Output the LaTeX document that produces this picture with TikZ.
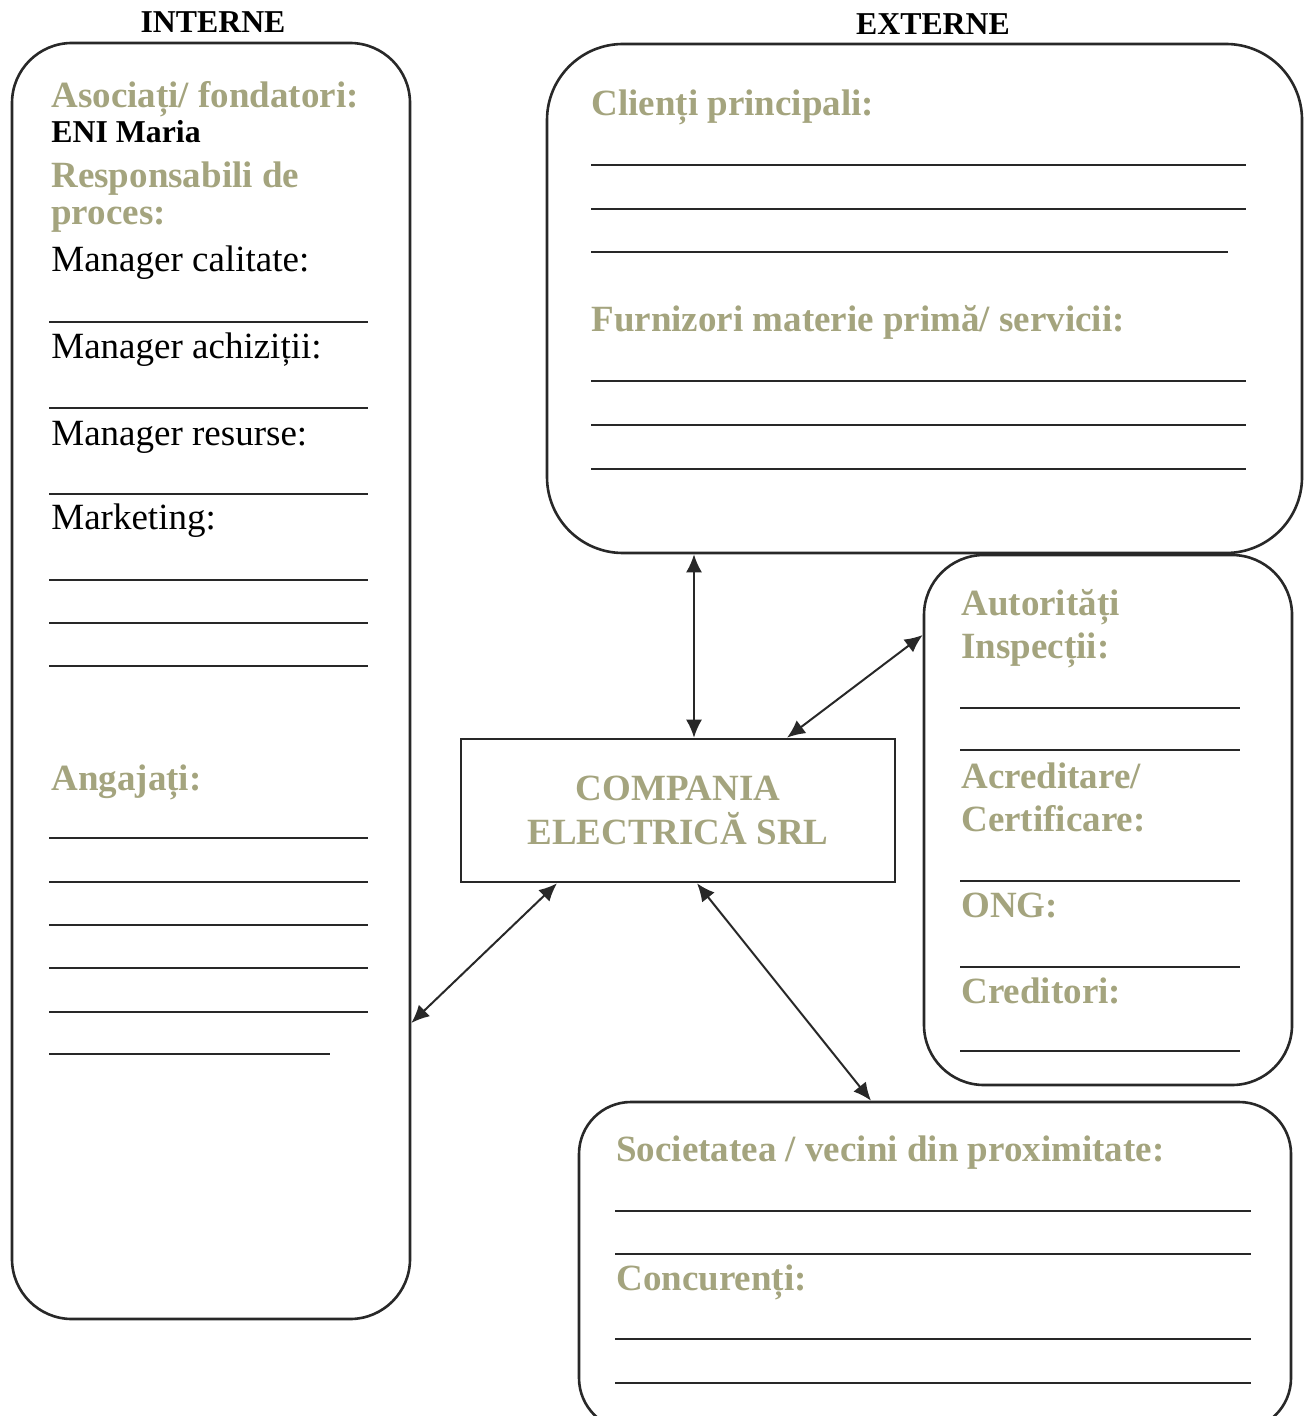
\documentclass[tikz,border=0pt]{standalone}
\usepackage{fontspec}
\setmainfont{Liberation Serif}
\usepackage{tikz}
\usetikzlibrary{arrows.meta}
\usetikzlibrary{positioning}
\definecolor{sage}{RGB}{164,164,126}
\definecolor{ink}{RGB}{40,40,40}
\tikzset{every picture/.style={x=0.5pt,y=-0.5pt},
panel/.style={draw=ink,line width=1.3pt,rounded corners=30pt,inner sep=0pt},
firmbox/.style={draw=ink,line width=1.3pt,minimum width=217pt,minimum height=71.5pt,align=center,text=sage,font=\bfseries\fontsize{18.5}{22}\selectfont},
head/.style={anchor=base west,inner sep=0pt,text=sage,font=\bfseries\fontsize{18.5}{22}\selectfont},
who/.style={anchor=base west,inner sep=0pt,font=\bfseries\fontsize{15.9}{18}\selectfont},
role/.style={anchor=base west,inner sep=0pt,font=\fontsize{18.5}{22}\selectfont},
side/.style={anchor=base,inner sep=0pt,font=\bfseries\fontsize{15.9}{18}\selectfont},
rule/.style={draw=ink,line width=1pt},
link/.style={{Latex[length=9pt,width=8pt]}-{Latex[length=9pt,width=8pt]},draw=ink,line width=1pt}}
\begin{document}
\begin{tikzpicture}
\useasboundingbox (0,0) rectangle (1304,1416);
\clip (0,0) rectangle (1304,1416);
\node (tIntern) at (213,33) [side] {INTERNE};
\node (tExtern) at (933,35) [side] {EXTERNE};
\node[panel,minimum width=199pt,minimum height=638pt] (intern) at (211,681) {};
\node[panel,rounded corners=38pt,minimum width=377.5pt,minimum height=254.5pt] (extern) at (924.5,298.5) {};
\node[panel,minimum width=184pt,minimum height=265pt] (autor) at (1108,820) {};
\node[panel,rounded corners=26pt,minimum width=356pt,minimum height=164pt] (vecini) at (935,1266) {};
\node[firmbox] (firma) at (678,810.5) {COMPANIA\\ELECTRICĂ SRL};
\node (asoc) at (51,108) [head] {Asociați/ fondatori:};
\node (eni) at (51,143) [who] {ENI Maria};
\node (resp) at (51,188) [head] {Responsabili de};
\node (proc) at (51,225) [head] {proces:};
\node (mcal) at (51,272) [role] {Manager calitate:};
\node (mach) at (51,359) [role] {Manager achiziții:};
\node (mres) at (51,446) [role] {Manager resurse:};
\node (mkt) at (51,530) [role] {Marketing:};
\node (angaj) at (51,790) [head] {Angajați:};
\foreach \y in {322,408,494,580,623,666,838,882,925,968,1012}{
\draw[rule] (49,\y) -- (368,\y);
}
\draw[rule] (49,1054) -- (330,1054);
\node (clienti) at (591,116) [head] {Clienți principali:};
\node (furniz) at (591,332) [head] {Furnizori materie primă/ servicii:};
\foreach \y in {165,209,381,425,469}{
\draw[rule] (591,\y) -- (1246,\y);
}
\draw[rule] (591,252) -- (1228,252);
\node (autoritati) at (961,615) [head] {Autorități};
\node (inspectii) at (961,658) [head] {Inspecții:};
\node (acred) at (961,788) [head] {Acreditare/};
\node (certif) at (961,831) [head] {Certificare:};
\node (ong) at (961,917) [head] {ONG:};
\node (credit) at (961,1003) [head] {Creditori:};
\foreach \y in {708,750,967,1051}{
\draw[rule] (960,\y) -- (1240,\y);
}
\draw[rule,line width=1.4pt] (960,881) -- (1240,881);
\node (societ) at (616,1161) [head] {Societatea / vecini din proximitate:};
\node (concur) at (616,1290) [head] {Concurenți:};
\foreach \y in {1211,1254,1339,1383}{
\draw[rule] (615,\y) -- (1251,\y);
}
\draw[link] (extern.south -| 694,0) -- (firma.north -| 694,0);
\draw[link] (firma.north -| 787,0) -- (autor.west |- 0,635);
\draw[link] (firma.south -| 557,0) -- (intern.east |- 0,1023);
\draw[link] (firma.south -| 697,0) -- (vecini.north -| 871,0);
\end{tikzpicture}
\end{document}
